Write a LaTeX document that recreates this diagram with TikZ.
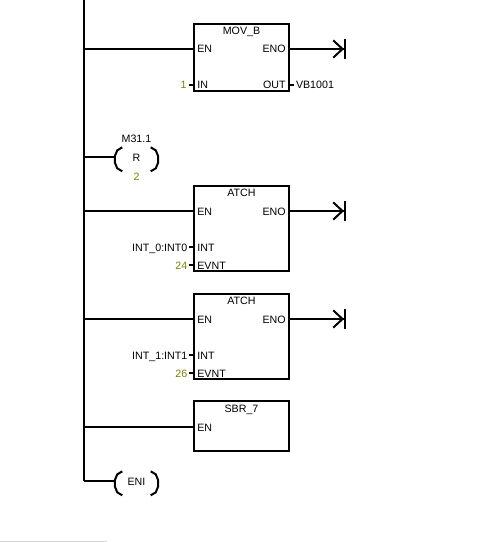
\documentclass[tikz,border=0pt]{standalone}
\usepackage{fontspec}
\setmainfont{Liberation Sans}
\usepackage{xcolor}
\usetikzlibrary{positioning,arrows.meta,calc}
\definecolor{cvalor}{HTML}{808000}
\definecolor{cborde}{HTML}{D4D4D4}
\tikzset{
  bloque/.style={rectangle, draw=black, line width=1.5pt, anchor=north west, inner sep=0pt, outer sep=0pt, minimum width=71.25pt},
  txt/.style={font=\fontsize{8}{9}\selectfont, inner sep=0pt, outer sep=0pt, text height=6pt, text depth=0pt},
  titulo/.style={txt, anchor=center},
  pinizq/.style={txt, anchor=west, inner xsep=2.5pt},
  pinder/.style={txt, anchor=east, inner xsep=2.5pt},
  entrada/.style={txt, anchor=east},
  salida/.style={txt, anchor=west},
  valor/.style={txt, anchor=east, text=cvalor},
  bobina/.style={txt, minimum width=32.6pt, minimum height=14.5pt, text height=6pt},
  linea/.style={line width=1.5pt, draw=black},
  flecha/.style={linea, -{Straight Barb[length=7pt,width=13pt,sep=0pt]Bar[width=15pt]}},
}
% parentesis de una bobina
\newcommand{\parentesis}[1]{
  \draw[linea] ($(#1.north west)+(7.5,0)$) -- ++(-5,-3) -- ++(-2.5,-6) -- ++(0,-6) -- ++(2.5,-6) -- ++(5,-3);
  \draw[linea] ($(#1.north east)+(-7.5,0)$) -- ++(5,-3) -- ++(2.5,-6) -- ++(0,-6) -- ++(-2.5,-6) -- ++(-5,-3);
}
\begin{document}
\begin{tikzpicture}[x=0.75pt,y=0.75pt]
  \useasboundingbox (0,0) rectangle (488,-542);
  \coordinate (railtop) at (84,0);
  \coordinate (railbot) at (84,-481);
  \draw[linea] (railtop) -- (railbot);

  % MOV_B
  \node[bloque, minimum height=50.25pt] (movb) at (194,-24) {};
  \node[titulo] (movbt) at (241.5,-31) {MOV\_B};
  \node[pinizq] (movben) at (movb.west |- 0,-49) {EN};
  \node[pinder] (movbeno) at (movb.east |- 0,-49) {ENO};
  \node[pinizq] (movbin) at (movb.west |- 0,-85) {IN};
  \node[pinder] (movbout) at (movb.east |- 0,-85) {OUT};
  \node[valor, left=5.5pt of movbin.west] (movbuno) {1};
  \node[salida, right=5.25pt of movbout.east] (movbvb) {VB1001};
  \coordinate (finmovb) at (346,-49);
  \draw[linea] (railtop |- movben) -- (movben.west);
  \draw[flecha] (movbeno.east) -- (finmovb);
  \draw[linea] (movbuno.east) ++(2.3,0) -- (movbin.west);
  \draw[linea] (movbout.east) -- ($(movbvb.west)+(-1.7,0)$);

  % R
  \node[bobina] (coilr) at (136.5,-157) {R};
  \node[txt, above=3.3pt of coilr.north] (coilrt) {M31.1};
  \node[txt, below=4pt of coilr.south, text=cvalor] (coilrn) {2};
  \parentesis{coilr}
  \draw[linea] (railtop |- coilr) -- (coilr.west);

  % ATCH 0
  \node[bloque, minimum height=63.75pt] (atcha) at (194,-186) {};
  \node[titulo] (atchat) at (241.5,-192.5) {ATCH};
  \node[pinizq] (atchaen) at (atcha.west |- 0,-211) {EN};
  \node[pinder] (atchaeno) at (atcha.east |- 0,-211) {ENO};
  \node[pinizq] (atchaint) at (atcha.west |- 0,-247) {INT};
  \node[pinizq] (atchaev) at (atcha.west |- 0,-265) {EVNT};
  \node[entrada, left=5pt of atchaint.west] (atchain) {INT\_0:INT0};
  \node[valor, left=5pt of atchaev.west] (atchaval) {24};
  \coordinate (finatcha) at (346,-211);
  \draw[linea] (railtop |- atchaen) -- (atchaen.west);
  \draw[flecha] (atchaeno.east) -- (finatcha);
  \draw[linea] (atchain.east) ++(1.7,0) -- (atchaint.west);
  \draw[linea] (atchaval.east) ++(1.7,0) -- (atchaev.west);

  % ATCH 1
  \node[bloque, minimum height=63.75pt] (atchb) at (194,-294) {};
  \node[titulo] (atchbt) at (241.5,-300.5) {ATCH};
  \node[pinizq] (atchben) at (atchb.west |- 0,-319) {EN};
  \node[pinder] (atchbeno) at (atchb.east |- 0,-319) {ENO};
  \node[pinizq] (atchbint) at (atchb.west |- 0,-355) {INT};
  \node[pinizq] (atchbev) at (atchb.west |- 0,-373) {EVNT};
  \node[entrada, left=5pt of atchbint.west] (atchbin) {INT\_1:INT1};
  \node[valor, left=5pt of atchbev.west] (atchbval) {26};
  \coordinate (finatchb) at (346,-319);
  \draw[linea] (railtop |- atchben) -- (atchben.west);
  \draw[flecha] (atchbeno.east) -- (finatchb);
  \draw[linea] (atchbin.east) ++(1.7,0) -- (atchbint.west);
  \draw[linea] (atchbval.east) ++(1.7,0) -- (atchbev.west);

  % SBR_7
  \node[bloque, minimum height=37.5pt] (sbr) at (194,-401) {};
  \node[titulo] (sbrt) at (241.5,-408.5) {SBR\_7};
  \node[pinizq] (sbren) at (sbr.west |- 0,-427) {EN};
  \draw[linea] (railtop |- sbren) -- (sbren.west);

  % ENI
  \node[bobina] (coileni) at (136.5,-481) {ENI};
  \parentesis{coileni}
  \draw[linea] (railbot) -- (coileni.west);

  % borde inferior
  \coordinate (bordea) at (0,-541.5);
  \coordinate (bordeb) at (107,-541.5);
  \draw[cborde, line width=0.75pt] (bordea) -- (bordeb);
\end{tikzpicture}
\end{document}
